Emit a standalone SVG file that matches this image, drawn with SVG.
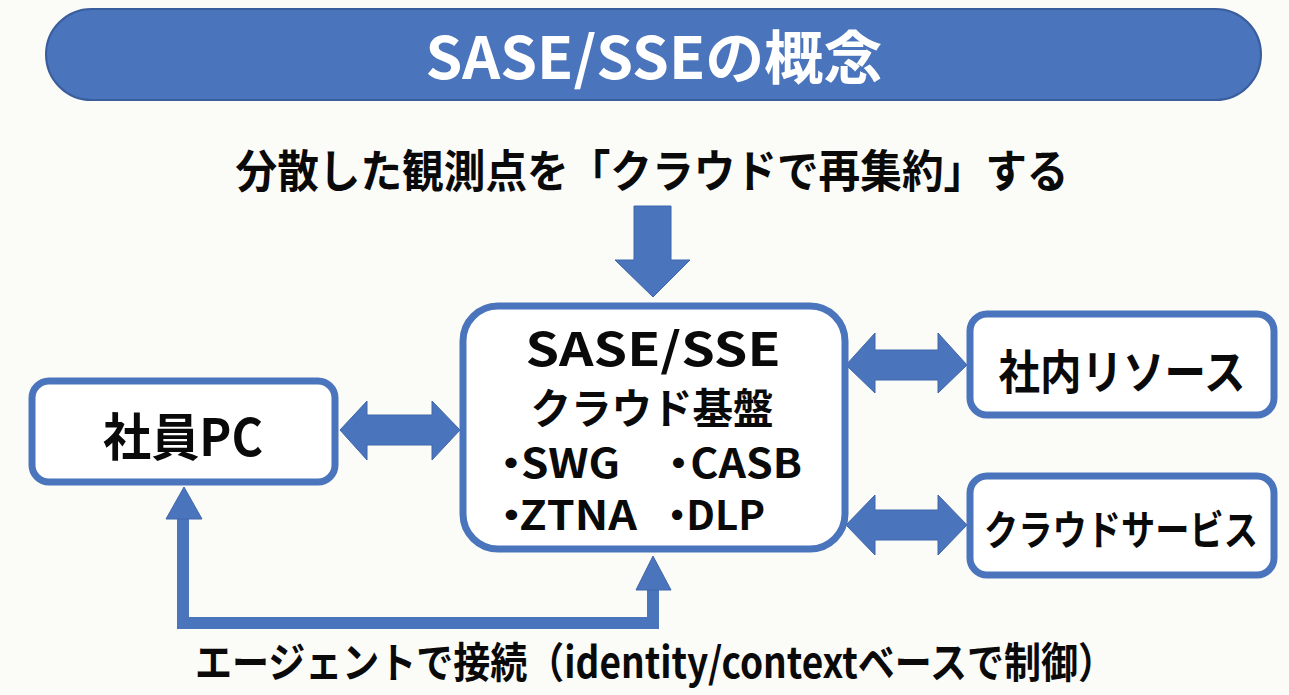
<svg xmlns="http://www.w3.org/2000/svg" width="1289" height="695" viewBox="0 0 1289 695">
<style>
.t{font-family:"Noto Sans CJK JP","Noto Sans",sans-serif;font-weight:700;fill:#0a0a0a}
.box{fill:#ffffff;stroke:#4a74bb;stroke-width:7}
.arr{fill:#4a74bb;stroke:#3f66ab;stroke-width:1}
</style>
<rect x="0" y="0" width="1289" height="695" fill="#fbfbf8"/>
<g id="title">
<rect x="46" y="9" width="1215" height="91" rx="45.5" fill="#4a74bb" stroke="#3a5d9c" stroke-width="2"/>
<text x="654" y="79" text-anchor="middle" class="t" style="fill:#ffffff" font-size="58" textLength="457" lengthAdjust="spacingAndGlyphs">SASE/SSEの概念</text>
</g>
<g id="subtitle">
<text x="652" y="188" text-anchor="middle" class="t" font-size="45" textLength="833" lengthAdjust="spacingAndGlyphs">分散した観測点を「クラウドで再集約」する</text>
</g>
<g id="connectors">
<polygon class="arr" points="634,206 671,206 671,260 690,260 653,297 615,260 634,260"/>
<polygon class="arr" points="340,430 367,401 367,415 432,415 432,401 460,430 432,460 432,445 367,445 367,460"/>
<polygon class="arr" points="846,365 875,333 875,350 938,350 938,333 967,365 938,393 938,380 875,380 875,393"/>
<polygon class="arr" points="846,525 875,495 875,510 938,510 938,495 967,525 938,555 938,540 875,540 875,555"/>
<polyline points="183,517 183,623 653,623 653,588" fill="none" stroke="#4a74bb" stroke-width="12"/>
<polygon class="arr" points="166,519 184,487 202,519"/>
<polygon class="arr" points="636,590 653,556 671,590"/>
</g>
<g id="pc">
<rect class="box" x="32" y="381" width="303" height="101" rx="17"/>
<text x="183" y="456" text-anchor="middle" class="t" font-size="51" textLength="160" lengthAdjust="spacingAndGlyphs">社員PC</text>
</g>
<g id="sase">
<rect class="box" x="463" y="306" width="382" height="243" rx="35"/>
<text x="653" y="366" text-anchor="middle" class="t" font-size="46" textLength="255" lengthAdjust="spacingAndGlyphs">SASE/SSE</text>
<text x="652" y="424" text-anchor="middle" class="t" font-size="42" textLength="243" lengthAdjust="spacingAndGlyphs">クラウド基盤</text>
<text x="489" y="478" class="t" font-size="40" textLength="131" lengthAdjust="spacingAndGlyphs">・<tspan dx="-11">SWG</tspan></text>
<text x="657" y="478" class="t" font-size="40" textLength="145" lengthAdjust="spacingAndGlyphs">・<tspan dx="-9">CASB</tspan></text>
<text x="489" y="530" class="t" font-size="40" textLength="148" lengthAdjust="spacingAndGlyphs">・<tspan dx="-13">ZTNA</tspan></text>
<text x="657" y="530" class="t" font-size="40" textLength="108" lengthAdjust="spacingAndGlyphs">・<tspan dx="-11">DLP</tspan></text>
</g>
<g id="internal">
<rect class="box" x="970" y="314" width="304" height="101" rx="17"/>
<text x="1122" y="389" text-anchor="middle" class="t" font-size="47" textLength="247" lengthAdjust="spacingAndGlyphs">社内リソース</text>
</g>
<g id="cloud">
<rect class="box" x="970" y="476" width="304" height="99" rx="17"/>
<text x="1121" y="545" text-anchor="middle" class="t" font-size="41" textLength="274" lengthAdjust="spacingAndGlyphs">クラウドサービス</text>
</g>
<g id="caption">
<text x="655" y="678" text-anchor="middle" class="t" font-size="42" textLength="920" lengthAdjust="spacingAndGlyphs">エージェントで接続（identity/contextベースで制御）</text>
</g>
</svg>
